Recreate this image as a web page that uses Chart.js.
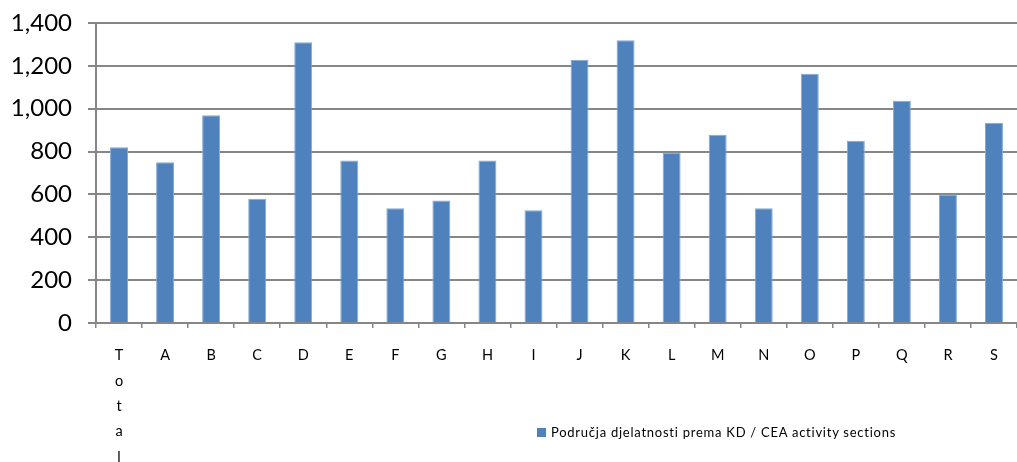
<!DOCTYPE html>
<html><head><meta charset="utf-8">
<script src="https://cdn.jsdelivr.net/npm/chart.js@4"></script>
<style>
html,body{margin:0;padding:0;background:#fff;}
#wrap{position:relative;width:1017px;height:462px;}
#legend{position:absolute;left:537px;top:424px;font-family:Lato,"Open Sans",sans-serif;font-size:13px;letter-spacing:0.75px;color:#000;white-space:nowrap;line-height:16px;}
#legend span.box{display:inline-block;width:9px;height:9px;background:#4F81BD;margin-right:5px;vertical-align:0px;}
</style></head>
<body>
<div id="wrap"><canvas id="c" width="1017" height="462"></canvas>
<div id="legend"><span class="box"></span>Područja djelatnosti prema KD / CEA activity sections</div></div>
<script>
const categories = [['T','o','t','a','l'],'A','B','C','D','E','F','G','H','I','J','K','L','M','N','O','P','Q','R','S'];
const values = [820,750,970,580,1310,758,535,572,758,526,1228,1320,795,878,535,1163,851,1037,600,935];
const seriesName = 'Područja djelatnosti prema KD / CEA activity sections';
const yTicks = [0,200,400,600,800,1000,1200,1400];

new Chart(document.getElementById('c'), {
  type: 'bar',
  data: {
    labels: categories,
    datasets: [{
      label: seriesName,
      data: values,
      backgroundColor: '#4F81BD',
      borderColor: '#86A8D3',
      borderWidth: {top:1,left:1,right:1,bottom:0},
      barPercentage: 0.39,
      categoryPercentage: 1.0
    }]
  },
  options: {
    responsive: false,
    animation: false,
    events: [],
    layout: {padding: {top: 23, right: 0, left: 0, bottom: 0}},
    plugins: {legend: {display: false}, tooltip: {enabled: false}},
    scales: {
      x: {
        grid: {display: true, drawOnChartArea: false, drawTicks: true, tickLength: 5, color: '#868686', lineWidth: 1.5, offset: true},
        border: {display: true, color: '#868686', width: 2},
        ticks: {color: '#000', font: {family: 'Lato', size: 14.5, lineHeight: 1.75}, padding: 15, maxRotation: 0, autoSkip: false},
        afterFit: (s) => { s.height = 139; s.paddingLeft = 0; s.paddingRight = 0; }
      },
      y: {
        min: 0, max: 1400,
        afterBuildTicks: (s) => { s.ticks = yTicks.map(v => ({value: v})); },
        grid: {color: '#868686', lineWidth: 2, tickLength: 8, drawTicks: true},
        border: {display: true, color: '#868686', width: 2},
        ticks: {color: '#000', font: {family: 'Lato', size: 24}, padding: 16,
          callback: (v) => v.toLocaleString('en-US')},
        afterFit: (s) => { s.width = 96; s.paddingTop = 0; s.paddingBottom = 0; }
      }
    }
  }
});
</script>
</body></html>
